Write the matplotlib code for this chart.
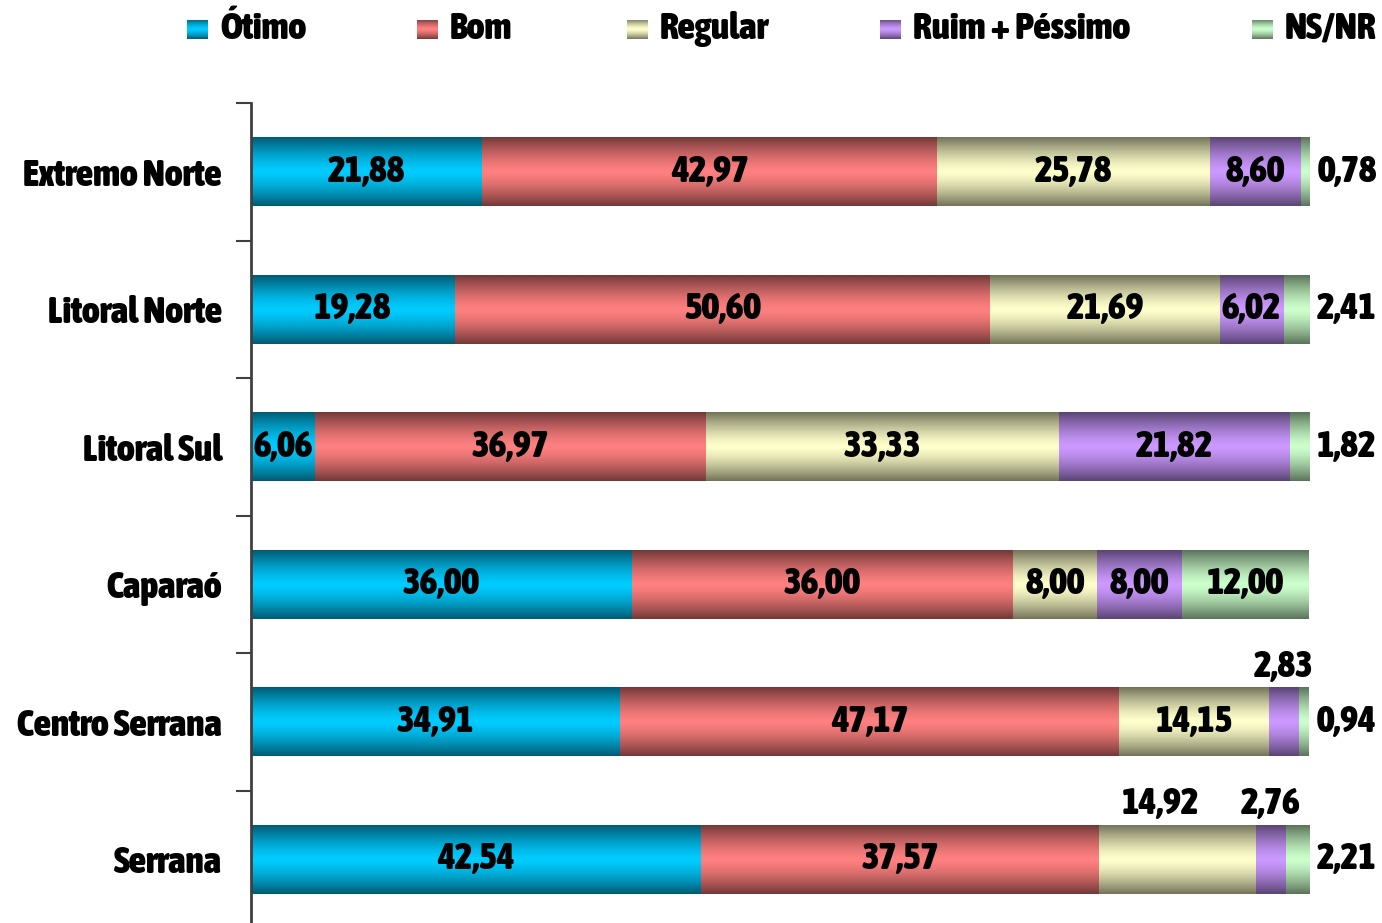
import numpy as np
import matplotlib
matplotlib.use('Agg')
import matplotlib.pyplot as plt
import matplotlib.patheffects as pe
from matplotlib import font_manager
from matplotlib.colors import LinearSegmentedColormap


def is_bold(w):
    if isinstance(w, (int, float)):
        return w >= 600
    return str(w).lower() in ('bold', 'heavy', 'black', 'extra bold',
                              'demibold', 'semibold', 'ultrabold')


# narrow bold face if one is around, else a narrow face thickened by a stroke
ttf = font_manager.fontManager.ttflist
narrow = [f for f in ttf
          if 'narrow' in (f.name + f.fname).lower()
          or 'condensed' in (f.name + f.fname).lower()]
bold_narrow = [f for f in narrow if is_bold(f.weight) and 'italic' not in f.fname.lower()
               and f.style == 'normal']
effects = []
if bold_narrow:
    bold_narrow.sort(key=lambda f: ('Liberation' not in f.name, f.name))
    fprop = font_manager.FontProperties(fname=bold_narrow[0].fname)
elif narrow:
    fprop = font_manager.FontProperties(fname=narrow[0].fname)
    effects = [pe.withStroke(linewidth=1.3, foreground='black')]
else:
    fprop = font_manager.FontProperties(family='Liberation Sans',
                                        weight='bold')

regions = ['Extremo Norte', 'Litoral Norte', 'Litoral Sul', 'Caparaó',
           'Centro Serrana', 'Serrana']
series = ['Ótimo', 'Bom', 'Regular', 'Ruim + Péssimo', 'NS/NR']

otimo = [21.88, 19.28, 6.06, 36.00, 34.91, 42.54]
bom = [42.97, 50.60, 36.97, 36.00, 47.17, 37.57]
regular = [25.78, 21.69, 33.33, 8.00, 14.15, 14.92]
ruim = [8.60, 6.02, 21.82, 8.00, 2.83, 2.76]
nsnr = [0.78, 2.41, 1.82, 12.00, 0.94, 2.21]

# (light middle, dark edge) for each series
colors = [('#00CCFF', '#005A72'),
          ('#FF8080', '#733838'),
          ('#FFFFCC', '#73735A'),
          ('#CC99FF', '#5A4473'),
          ('#CCFFCC', '#5A735A')]

# labels that do not sit in the middle of their segment
label_pos = {(4, 3): 'above', (5, 2): 'above', (5, 3): 'above',
             (0, 4): 'right', (1, 4): 'right', (2, 4): 'right',
             (4, 4): 'right', (5, 4): 'right'}


def fmt(v):
    return f'{v:.2f}'.replace('.', ',')


grad = np.abs(np.linspace(-1, 1, 200)) ** 1.4
grad = grad.reshape(-1, 1)

fig = plt.figure(figsize=(13.82, 9.23), dpi=100)

# size the font so that the widest label spans like in the reference
probe = fig.text(0, 0, 'Extremo Norte', fontproperties=fprop, fontsize=24)
fig.canvas.draw()
w = probe.get_window_extent().width
probe.remove()
fs = min(27, 24 * 200 / w)
tp = dict(fontproperties=fprop, fontsize=fs, path_effects=effects)

ax = fig.add_axes([251 / 1382, -5 / 923, 1058 / 1382, 825 / 923])

data = [otimo, bom, regular, ruim, nsnr]
y = np.arange(len(regions))
bar_h = 0.5
left = np.zeros(len(regions))
for j, vals in enumerate(data):
    vals = np.array(vals)
    bars = ax.barh(y, vals, left=left, height=bar_h, color=colors[j][0],
                   linewidth=0)
    cmap = LinearSegmentedColormap.from_list('g', [colors[j][0], colors[j][1]])
    for i, b in enumerate(bars):
        im = ax.imshow(grad, cmap=cmap, aspect='auto', vmin=0, vmax=1,
                       extent=[left[i], left[i] + vals[i], y[i] + bar_h / 2,
                               y[i] - bar_h / 2], zorder=2)
        im.set_clip_path(b)
        pos = label_pos.get((i, j), 'center')
        if pos == 'center':
            ax.text(left[i] + vals[i] / 2, y[i], fmt(vals[i]), ha='center',
                    va='center', zorder=3, **tp)
        elif pos == 'above':
            dx = -1.6 if j == 2 else 0
            ax.text(left[i] + vals[i] / 2 + dx, y[i] - bar_h / 2 - 0.02,
                    fmt(vals[i]), ha='center', va='bottom', zorder=3, **tp)
        else:
            ax.text(left[i] + vals[i] + 3.6, y[i], fmt(vals[i]), ha='center',
                    va='center', zorder=3, **tp)
    left += vals

ax.set_xlim(0, 100)
ax.set_ylim(len(regions) - 0.5, -0.5)
ax.set_yticks(y)
ax.set_yticklabels(regions)
for lab in ax.get_yticklabels():
    lab.set_fontproperties(fprop)
    lab.set_fontsize(fs)
    lab.set_path_effects(effects)
ax.set_yticks(np.arange(len(regions) + 1) - 0.5, minor=True)
ax.tick_params(axis='y', which='major', length=0, pad=21)
ax.tick_params(axis='y', which='minor', length=11, width=1.5, color='#404040')
ax.xaxis.set_visible(False)
for s in ['top', 'right', 'bottom']:
    ax.spines[s].set_visible(False)
ax.spines['left'].set_color('#404040')
ax.spines['left'].set_linewidth(2)

# legend across the top
leg_x = [187, 417, 627, 880, 1252]
for j, name in enumerate(series):
    sw = fig.add_axes([leg_x[j] / 1382, 1 - 39 / 923, 21 / 1382, 19 / 923])
    sw.imshow(grad, cmap=LinearSegmentedColormap.from_list(
        'g', [colors[j][0], colors[j][1]]), aspect='auto', vmin=0, vmax=1)
    sw.axis('off')
    fig.text((leg_x[j] + 33) / 1382, 1 - 29 / 923, name, ha='left',
             va='center', **tp)

fig.savefig('out.png', dpi=100)
